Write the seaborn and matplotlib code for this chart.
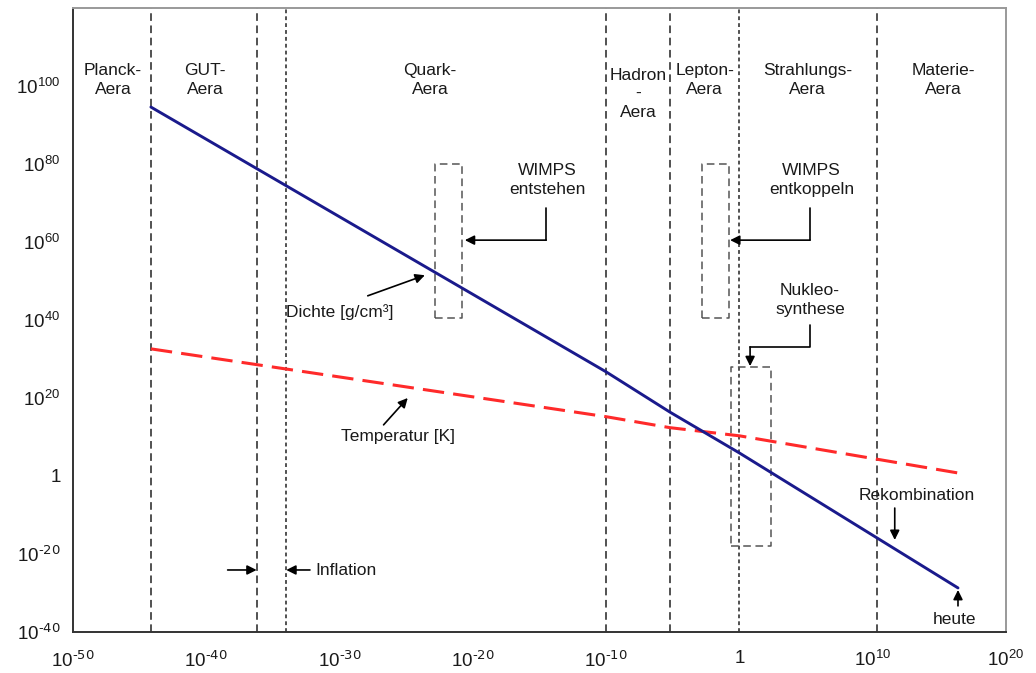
import numpy as np
import pandas as pd
import seaborn as sns
import matplotlib.pyplot as plt

# Werte (Zeit in s)
t_dichte = [7e-45, 1e-10, 6e-6, 1.0, 2.5e16]
dichte = [4e94, 5e26, 2.5e16, 8e5, 2e-29]

t_temp = [7e-45, 1e-10, 6e-6, 1.0, 2.5e16]
temp = [4e32, 1.6e15, 2.5e12, 2e10, 6e0]

# Epochengrenzen
grenzen = [7e-45, 6e-37, 1e-34, 1e-10, 6e-6, 1.0, 2e10]
grenz_stil = [(5, 3), (5, 3), (2.5, 2), (5, 3), (5, 3), (2.5, 2), (5, 3)]

aeren = ["Planck-\nAera", "GUT-\nAera", "Quark-\nAera", "Hadron\n-\nAera",
         "Lepton-\nAera", "Strahlungs-\nAera", "Materie-\nAera"]
aeren_x = [1e-47, 8e-41, 6e-24, 2.5e-8, 2.5e-3, 1.3e5, 2e15]

x_ticks = [1e-50, 1e-40, 1e-30, 1e-20, 1e-10, 1, 1e10, 1e20]
x_labels = [r"$10^{\text{-50}}$", r"$10^{\text{-40}}$", r"$10^{\text{-30}}$",
            r"$10^{\text{-20}}$", r"$10^{\text{-10}}$", "1", r"$10^{10}$", r"$10^{20}$"]
y_ticks = [1e-40, 1e-20, 1, 1e20, 1e40, 1e60, 1e80, 1e100]
y_labels = [r"$10^{\text{-40}}$", r"$10^{\text{-20}}$", "1", r"$10^{20}$", r"$10^{40}$",
            r"$10^{60}$", r"$10^{80}$", r"$10^{100}$"]

sns.set_theme(style="white")
plt.rcParams["font.family"] = ["Liberation Sans", "DejaVu Sans"]
plt.rcParams["mathtext.default"] = "regular"
plt.rcParams["axes.unicode_minus"] = False

fig = plt.figure(figsize=(10.36, 6.73), dpi=100)
ax = fig.add_axes([73 / 1036, 41 / 673, 933 / 1036, 624 / 673])
ax.set(xscale="log", yscale="log")

df_d = pd.DataFrame({"t": t_dichte, "wert": dichte})
df_t = pd.DataFrame({"t": t_temp, "wert": temp})
sns.lineplot(data=df_d, x="t", y="wert", ax=ax, color="#1a1a8c", lw=2.1, zorder=5)
sns.lineplot(data=df_t, x="t", y="wert", ax=ax, color="#ff2a2a", lw=2.2,
             dashes=False, zorder=4).lines[-1].set_dashes((7, 3))

for g, st in zip(grenzen, grenz_stil):
    ax.axvline(g, color="#222222", lw=1.1, dashes=st, zorder=2)

fs = 12.5
txt = "#1a1a1a"
for name, xp in zip(aeren, aeren_x):
    yp = 1e98 if name.startswith("Hadron") else 3e101
    ax.text(xp, yp, name, ha="center", va="center", fontsize=fs, color=txt,
            linespacing=1.3)

# gestrichelte Kaesten
box_kw = dict(color="#555555", lw=1.1, dashes=(5, 3), zorder=3)
for x0, x1, y0, y1 in [(1.4e-23, 1.6e-21, 3e40, 1e80),
                       (1.6e-3, 1.6e-1, 3e40, 1e80),
                       (2.3e-1, 2.5e2, 1.3e-18, 8e27)]:
    ax.plot([x0, x1, x1, x0, x0], [y0, y0, y1, y1, y0], **box_kw)

arr = dict(arrowstyle="-|>", color="black", lw=1.2, mutation_scale=14,
           shrinkA=0, shrinkB=0)
tk = dict(ha="center", va="center", fontsize=fs, color=txt, linespacing=1.3)

# WIMPS entstehen
ax.text(4e-15, 8e75, "WIMPS\nentstehen", **tk)
ax.plot([3.2e-15, 3.2e-15], [5e68, 3e60], color="black", lw=1.2)
ax.annotate("", xy=(2.5e-21, 3e60), xytext=(3.2e-15, 3e60), arrowprops=arr)

# WIMPS entkoppeln
ax.text(2.5e5, 8e75, "WIMPS\nentkoppeln", **tk)
ax.plot([2e5, 2e5], [5e68, 3e60], color="black", lw=1.2)
ax.annotate("", xy=(0.2, 3e60), xytext=(2e5, 3e60), arrowprops=arr)

# Nukleosynthese
ax.text(2e5, 1.3e45, "Nukleo-\nsynthese", **tk)
ax.plot([2e5, 2e5, 6.3], [5e38, 1.3e33, 1.3e33], color="black", lw=1.2)
ax.annotate("", xy=(6.3, 1.5e28), xytext=(6.3, 1.3e33), arrowprops=arr)

# Dichte / Temperatur
ax.text(1e-30, 1e42, "Dichte [g/cm³]", **tk)
ax.annotate("", xy=(2.5e-24, 3e51), xytext=(1.3e-28, 1.6e46), arrowprops=arr)
ax.text(2.5e-26, 1e10, "Temperatur [K]", **tk)
ax.annotate("", xy=(1.3e-25, 1e20), xytext=(2e-27, 1.3e13), arrowprops=arr)

# Inflation
ax.annotate("", xy=(6e-37, 8e-25), xytext=(4e-39, 8e-25), arrowprops=arr)
ax.annotate("", xy=(1e-34, 8e-25), xytext=(6e-33, 8e-25), arrowprops=arr)
ax.text(1.6e-32, 5e-25, "Inflation", ha="left", va="center", fontsize=fs, color=txt)

# Rekombination / heute
ax.text(2e13, 8e-6, "Rekombination", **tk)
ax.annotate("", xy=(4.5e11, 4e-17), xytext=(4.5e11, 6e-9), arrowprops=arr)
ax.text(1.4e16, 1.5e-37, "heute", **tk)
ax.annotate("", xy=(2.5e16, 6e-30), xytext=(2.5e16, 5e-34), arrowprops=arr)

ax.set_xlim(1e-50, 1e20)
ax.set_ylim(1e-40, 1e120)
ax.set_xticks(x_ticks, x_labels)
ax.set_yticks(y_ticks, y_labels)
ax.minorticks_off()
ax.tick_params(axis="x", direction="inout", length=8, width=1, pad=9,
               labelsize=13.5, color="#333333", labelcolor=txt)
ax.tick_params(axis="y", direction="out", length=5, width=1, pad=4,
               labelsize=13.5, color="#333333", labelcolor=txt)
ax.set_xlabel("")
ax.set_ylabel("")
for s in ["left", "bottom"]:
    ax.spines[s].set_color("#333333")
    ax.spines[s].set_linewidth(1.4)
for s in ["top", "right"]:
    ax.spines[s].set_color("#999999")
    ax.spines[s].set_linewidth(1.4)

fig.savefig("out.png", dpi=100)
